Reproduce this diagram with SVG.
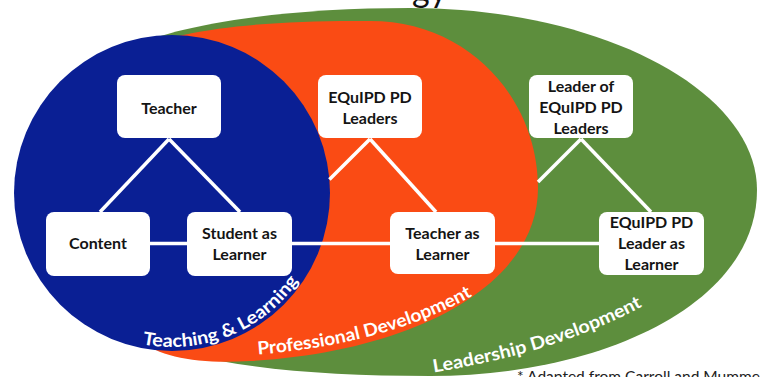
<svg xmlns="http://www.w3.org/2000/svg" xmlns:xlink="http://www.w3.org/1999/xlink" width="763" height="377" viewBox="0 0 763 377">
  <style>
    .box { fill: #ffffff; }
    .lbl { font-family: Lato, "Open Sans", "Liberation Sans", sans-serif; font-weight: 700; font-size: 16px; fill: #141414; text-anchor: middle; }
    .link { stroke: #ffffff; stroke-width: 3.5; fill: none; stroke-linecap: butt; }
    .arc { font-family: Lato, "Open Sans", "Liberation Sans", sans-serif; font-weight: 700; font-size: 18px; fill: #ffffff; }
    .note { font-family: Lato, "Liberation Sans", sans-serif; font-size: 15px; fill: #222222; }
  </style>
  <defs>
    <path id="tlPath" d="M 136.6 342.9 A 154 154 0 0 0 305.4 270"/>
    <path id="pdPath" d="M 252 355 C 332 349, 420 331, 492 284"/>
    <path id="ldPath" d="M 430 373 C 500 362, 580 342, 652 301"/>
  </defs>

  <rect width="763" height="377" fill="#ffffff"/>

  <!-- cut-off title above the diagram -->
  <text x="412" y="2" font-family="Lato, 'Liberation Sans', sans-serif" font-size="34" fill="#111111">gy</text>

  <!-- nested regions: leadership, professional development, teaching & learning -->
  <g id="regions">
    <path id="leadership-region" fill="#5D8E3D" d="M 120 52 C 170 25, 280 8, 410 8 C 600 8, 757 90, 757 190 C 757 305, 600 376, 430 376 C 300 376, 200 365, 130 335 Z"/>
    <path id="pd-region" fill="#FA4B14" d="M 130 52 C 180 28, 270 20, 370 21 C 470 21, 538 100, 538 188 C 538 287, 410 352, 250 361 C 200 364, 160 358, 140 340 Z"/>
    <circle id="tl-region" cx="172" cy="193" r="158" fill="#0A1F94"/>
  </g>

  <g id="connectors">
    <line class="link" x1="169" y1="139" x2="100" y2="212"/>
    <line class="link" x1="169" y1="139" x2="240" y2="212"/>
    <line class="link" x1="150" y1="243.5" x2="187" y2="243.5"/>
    <line class="link" x1="291" y1="243.5" x2="390" y2="243.5"/>
    <line class="link" x1="370" y1="139" x2="329.4" y2="179.6"/>
    <line class="link" x1="370" y1="139" x2="436" y2="212"/>
    <line class="link" x1="494" y1="243.5" x2="599" y2="243.5"/>
    <line class="link" x1="581" y1="139" x2="538" y2="182"/>
    <line class="link" x1="581" y1="139" x2="651" y2="212"/>
  </g>

  <g id="teacher">
    <rect class="box" x="117" y="75" width="104" height="63" rx="8"/>
    <text class="lbl" x="169" y="113.5">Teacher</text>
  </g>
  <g id="content">
    <rect class="box" x="46" y="212" width="104" height="64" rx="8"/>
    <text class="lbl" x="98" y="249">Content</text>
  </g>
  <g id="student-as-learner">
    <rect class="box" x="187" y="212" width="105" height="64" rx="8"/>
    <text class="lbl" x="239.5" y="239">Student as</text>
    <text class="lbl" x="239.5" y="260">Learner</text>
  </g>
  <g id="equipd-pd-leaders">
    <rect class="box" x="318" y="75" width="104" height="63" rx="8"/>
    <text class="lbl" x="370" y="103">EQuIPD PD</text>
    <text class="lbl" x="370" y="124">Leaders</text>
  </g>
  <g id="teacher-as-learner">
    <rect class="box" x="390" y="212" width="105" height="62" rx="8"/>
    <text class="lbl" x="442.5" y="239">Teacher as</text>
    <text class="lbl" x="442.5" y="260">Learner</text>
  </g>
  <g id="leader-of-equipd-pd-leaders">
    <rect class="box" x="529" y="75" width="104" height="63" rx="8"/>
    <text class="lbl" x="581" y="91.5">Leader of</text>
    <text class="lbl" x="581" y="112.5">EQuIPD PD</text>
    <text class="lbl" x="581" y="133.5">Leaders</text>
  </g>
  <g id="equipd-pd-leader-as-learner">
    <rect class="box" x="599" y="212" width="105" height="63" rx="8"/>
    <text class="lbl" x="651.5" y="228">EQuIPD PD</text>
    <text class="lbl" x="651.5" y="249">Leader as</text>
    <text class="lbl" x="651.5" y="270">Learner</text>
  </g>

  <g id="region-labels">
    <text class="arc"><textPath xlink:href="#tlPath" href="#tlPath" startOffset="6" textLength="178" lengthAdjust="spacingAndGlyphs">Teaching &amp; Learning</textPath></text>
    <text class="arc"><textPath xlink:href="#pdPath" href="#pdPath" startOffset="6" textLength="224" lengthAdjust="spacingAndGlyphs">Professional Development</textPath></text>
    <text class="arc"><textPath xlink:href="#ldPath" href="#ldPath" startOffset="4" textLength="220" lengthAdjust="spacingAndGlyphs">Leadership Development</textPath></text>
  </g>

  <text class="note" x="517" y="382" textLength="243" lengthAdjust="spacingAndGlyphs">* Adapted from Carroll and Mumme</text>
</svg>
